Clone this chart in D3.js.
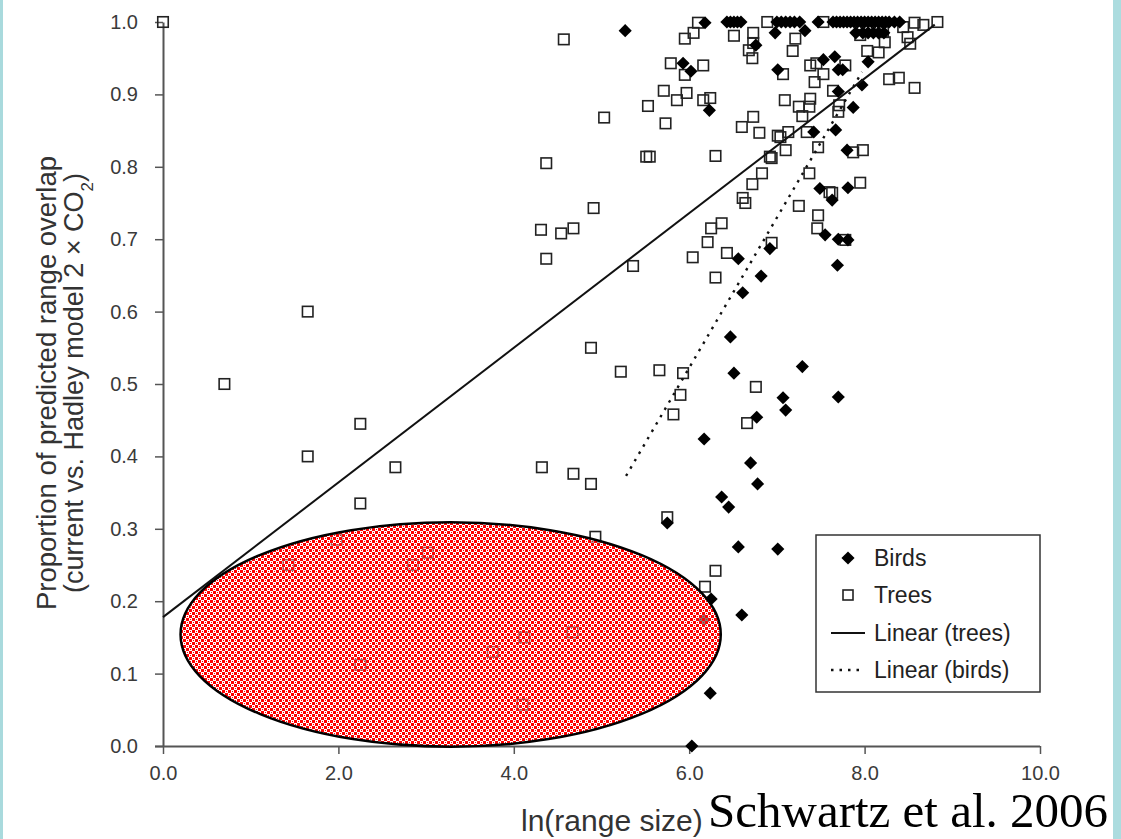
<!DOCTYPE html>
<html><head><meta charset="utf-8">
<script src="https://cdn.jsdelivr.net/npm/d3@7"></script>
<style>html,body{margin:0;padding:0;background:#fff;overflow:hidden}</style>
</head><body><svg id="c" width="1121" height="839"></svg>
<script>
// ---- data ----
const xTicks = [0, 2, 4, 6, 8, 10];
const yTicks = [0, 0.1, 0.2, 0.3, 0.4, 0.5, 0.6, 0.7, 0.8, 0.9, 1.0];
const legendLabels = ["Birds", "Trees", "Linear (trees)", "Linear (birds)"];
const treesFitCoef = [0.178, 0.093];    // intercept, slope
const treesFitSpan = [0, 8.8];
const birdsFitCoef = [-0.722, 0.2074];
const birdsFitSpan = [5.28, 7.97];
const ellipseCenter = [3.28, 0.154];
const ellipseRadius = [3.08, 0.155];

const trees = [
 [0.0,1.0],[0.7,0.50],[1.65,0.60],[1.65,0.40],[2.25,0.445],[2.25,0.335],[2.65,0.385],
 [1.43,0.25],[1.98,0.285],[2.85,0.25],[3.02,0.267],[2.25,0.112],[3.76,0.13],[4.12,0.15],[4.67,0.157],[4.1,0.057],[4.93,0.289],
 [4.57,0.976],[4.37,0.805],[5.03,0.868],[4.91,0.743],[4.31,0.713],[4.54,0.708],[4.68,0.715],[4.37,0.673],[5.36,0.663],
 [4.88,0.55],[5.22,0.517],[5.66,0.519],[5.93,0.515],[5.9,0.485],[6.25,0.715],[6.37,0.722],[6.21,0.696],[6.04,0.675],
 [6.3,0.647],[6.43,0.681],[6.64,0.75],[7.25,0.746],[7.47,0.733],[7.46,0.715],[7.63,0.764],[7.78,0.699],[6.94,0.695],
 [5.82,0.458],[6.76,0.496],[6.66,0.446],[4.32,0.385],[4.68,0.376],[4.88,0.362],[5.75,0.316],[6.3,0.242],[6.18,0.22],
 [7.95,0.778],[7.6,0.765],
 [5.51,0.814],[5.55,0.814],[5.53,0.884],[5.71,0.905],[5.73,0.86],[5.86,0.892],[5.97,0.902],[6.16,0.892],[6.24,0.895],
 [5.79,0.943],[5.95,0.927],[6.16,0.94],[5.95,0.977],[6.05,0.985],[6.1,0.999],[6.3,0.815],[6.51,0.981],[6.73,0.985],
 [6.89,1.0],[6.73,0.971],[6.68,0.961],[6.72,0.95],[6.6,0.855],[6.73,0.869],[6.8,0.847],[7.01,0.843],[6.92,0.814],
 [6.83,0.791],[6.72,0.776],[6.61,0.757],
 [7.21,0.977],[7.18,0.96],[7.38,0.94],[7.45,0.943],[7.53,0.928],[7.43,0.917],[7.78,0.94],[7.07,0.928],[7.09,0.892],
 [7.25,0.883],[7.38,0.894],[7.37,0.883],[7.29,0.87],[7.64,0.905],[7.71,0.885],[7.7,0.876],[7.04,0.841],[7.13,0.848],
 [7.1,0.823],[7.34,0.848],[7.47,0.827],[6.94,0.812],[7.87,0.82],[7.98,0.823],[7.37,0.791],
 [7.53,1.0],[7.95,0.982],[8.03,0.96],[8.16,0.958],[8.21,0.986],[8.23,0.972],[8.44,0.993],[8.49,0.979],[8.52,0.97],
 [8.57,0.999],[8.67,0.996],[8.83,1.0],[8.28,0.921],[8.39,0.923],[8.57,0.909]
];

const birds = [
 [5.27,0.988],[6.18,0.999],[6.43,1.0],[6.47,1.0],[6.51,1.0],[6.55,1.0],[6.59,1.0],[6.98,0.985],[6.76,0.968],
 [5.93,0.943],[6.02,0.932],[6.23,0.878],[7.01,0.934],[7.32,0.988],
 [7.0,1.0],[7.05,1.0],[7.1,1.0],[7.15,1.0],[7.2,1.0],[7.26,1.0],[7.47,1.0],[7.64,1.0],[7.68,1.0],[7.72,1.0],
 [7.76,1.0],[7.8,1.0],[7.84,1.0],[7.88,1.0],[7.92,1.0],[7.96,1.0],[8.0,1.0],[8.04,1.0],[8.08,1.0],[8.12,1.0],
 [8.16,1.0],[8.2,1.0],[8.24,1.0],[8.28,1.0],[8.34,1.0],[8.4,1.0],
 [7.9,0.985],[7.98,0.985],[8.04,0.985],[8.1,0.985],[8.16,0.985],[8.22,0.985],
 [7.53,0.948],[7.66,0.952],[7.7,0.934],[7.75,0.934],[8.04,0.945],[7.7,0.904],[7.97,0.913],[7.87,0.882],
 [7.42,0.848],[7.67,0.851],[7.8,0.823],
 [7.81,0.771],[7.49,0.77],[7.63,0.754],[7.55,0.706],[7.81,0.699],[7.7,0.7],[7.69,0.664],[6.92,0.687],[6.56,0.673],
 [6.82,0.649],[6.61,0.626],[6.47,0.565],[6.51,0.515],[7.29,0.524],[7.07,0.481],[7.1,0.464],[7.7,0.482],[6.77,0.454],
 [6.17,0.424],[6.7,0.391],[6.78,0.362],[6.37,0.344],[6.45,0.33],[5.75,0.308],[6.56,0.275],[7.01,0.272],[6.6,0.181],
 [6.25,0.203],[6.17,0.174],[6.24,0.073],[6.03,0.0]
];

// ---- drawing ----
const svg = d3.select("#c");
const x = d3.scaleLinear().domain([0, 10]).range([163, 1040]);
const y = d3.scaleLinear().domain([0, 1]).range([746, 22]);
const SANS = "Liberation Sans, Arial, sans-serif";

// side strips
svg.append("rect").attr("x", 0).attr("y", 0).attr("width", 3).attr("height", 839).attr("fill", "#a9dadd");
svg.append("rect").attr("x", 1113).attr("y", 0).attr("width", 8).attr("height", 839).attr("fill", "#acdcdf");

const defs = svg.append("defs");
const pat = defs.append("pattern").attr("id", "chk").attr("patternUnits", "userSpaceOnUse")
  .attr("width", 6).attr("height", 6);
pat.append("rect").attr("width", 6).attr("height", 6).attr("fill", "#fff").attr("fill-opacity", 0.5);
pat.append("rect").attr("x", 0).attr("y", 0).attr("width", 3).attr("height", 3).attr("fill", "#f00");
pat.append("rect").attr("x", 3).attr("y", 3).attr("width", 3).attr("height", 3).attr("fill", "#f00");
pat.append("rect").attr("x", 4).attr("y", 1).attr("width", 1).attr("height", 1).attr("fill", "#f00");
pat.append("rect").attr("x", 1).attr("y", 4).attr("width", 1).attr("height", 1).attr("fill", "#f00");

// axes
const yAxis = d3.axisLeft(y).tickValues(yTicks).tickFormat(d3.format(".1f")).tickSize(8).tickSizeOuter(0).tickPadding(17);
const gy = svg.append("g").attr("transform", "translate(163,0)").call(yAxis);
const xAxis = d3.axisBottom(x).tickValues(xTicks).tickFormat(d3.format(".1f")).tickSize(8).tickSizeOuter(0).tickPadding(12);
const gx = svg.append("g").attr("transform", "translate(0,746)").call(xAxis);
[gx, gy].forEach(g => {
  g.select(".domain").attr("stroke", "#555").attr("stroke-width", 2);
  g.selectAll(".tick line").attr("stroke", "#555").attr("stroke-width", 1.5);
  g.selectAll(".tick text").attr("fill", "#3a3a3a").style("font-family", SANS).style("font-size", "20px");
});
gx.select(".domain").attr("d", "M155,0.5H1040");

// points
const sq = 10.5;
svg.append("g").selectAll("rect").data(trees).join("rect")
  .attr("x", d => x(d[0]) - sq / 2).attr("y", d => y(d[1]) - sq / 2)
  .attr("width", sq).attr("height", sq)
  .attr("fill", "none").attr("stroke", "#222").attr("stroke-width", 1.6);
const dia = d3.symbol().type(d3.symbolDiamond2).size(110);
svg.append("g").selectAll("path").data(birds).join("path")
  .attr("d", dia).attr("transform", d => `translate(${x(d[0])},${y(d[1])})`)
  .attr("fill", "#000");

// fit lines
const line = d3.line().x(d => x(d[0])).y(d => y(d[1]));
const tf = treesFitSpan.map(v => [v, treesFitCoef[0] + treesFitCoef[1] * v]);
const bf = birdsFitSpan.map(v => [v, birdsFitCoef[0] + birdsFitCoef[1] * v]);
svg.append("path").attr("d", line(tf)).attr("stroke", "#111").attr("stroke-width", 2).attr("fill", "none");
svg.append("path").attr("d", line(bf)).attr("stroke", "#111").attr("stroke-width", 2.4)
  .attr("stroke-dasharray", "2.5,6").attr("fill", "none");

// ellipse annotation
svg.append("ellipse")
  .attr("cx", x(ellipseCenter[0])).attr("cy", y(ellipseCenter[1]))
  .attr("rx", x(ellipseRadius[0]) - x(0)).attr("ry", y(0) - y(ellipseRadius[1]))
  .attr("fill", "url(#chk)").attr("stroke", "#000").attr("stroke-width", 2.5);

// legend
const lg = svg.append("g");
lg.append("rect").attr("x", 816).attr("y", 535).attr("width", 224).attr("height", 157)
  .attr("fill", "#fff").attr("stroke", "#333").attr("stroke-width", 1.5);
const rowY = [558, 595, 633, 670];
lg.append("path").attr("d", dia).attr("transform", `translate(848,${rowY[0]})`).attr("fill", "#000");
lg.append("rect").attr("x", 843).attr("y", rowY[1] - 5).attr("width", 10).attr("height", 10)
  .attr("fill", "none").attr("stroke", "#222").attr("stroke-width", 1.6);
lg.append("line").attr("x1", 831).attr("x2", 865).attr("y1", rowY[2]).attr("y2", rowY[2]).attr("stroke", "#111").attr("stroke-width", 1.8);
lg.append("line").attr("x1", 831).attr("x2", 865).attr("y1", rowY[3]).attr("y2", rowY[3]).attr("stroke", "#111").attr("stroke-width", 2.4).attr("stroke-dasharray", "2.5,6");
lg.selectAll("text.lab").data(legendLabels).join("text").attr("class", "lab")
  .attr("x", 874).attr("y", (d, i) => rowY[i]).attr("dy", "0.36em")
  .style("font-family", SANS).style("font-size", "23px").attr("fill", "#222")
  .text(d => d);

// axis titles
const yt = svg.append("text").attr("transform", "translate(46,383) rotate(-90)").attr("text-anchor", "middle")
  .style("font-family", SANS).style("font-size", "27.5px").attr("fill", "#333");
yt.append("tspan").attr("x", 0).attr("y", 0).attr("dy", "0.35em").text("Proportion of predicted range overlap");
const yt2 = svg.append("text").attr("transform", "translate(74,383) rotate(-90)").attr("text-anchor", "middle")
  .style("font-family", SANS).style("font-size", "27px").attr("fill", "#333")
  .attr("dy", "0.35em");
yt2.append("tspan").text("(current vs. Hadley model 2 \u00D7 CO");
yt2.append("tspan").attr("baseline-shift", "sub").style("font-size", "17px").text("2");
yt2.append("tspan").text(")");

svg.append("text").attr("x", 521).attr("y", 831)
  .style("font-family", SANS).style("font-size", "30px").attr("fill", "#333")
  .text("ln(range size)");
svg.append("text").attr("x", 708).attr("y", 827)
  .style("font-family", "Liberation Serif, Times New Roman, serif").style("font-size", "49px").attr("fill", "#000")
  .text("Schwartz et al. 2006");
</script></body></html>
